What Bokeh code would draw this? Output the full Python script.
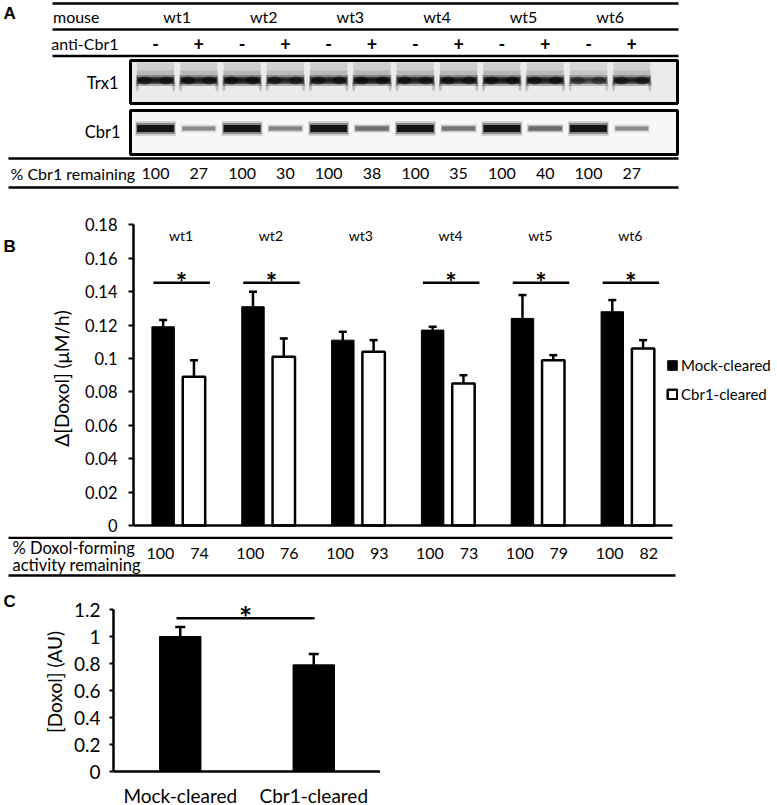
import numpy as np
from bokeh.plotting import figure
from bokeh.models import (Range1d, FactorRange, FixedTicker, CustomJSTickFormatter,
                          Legend, LegendItem, Whisker, TeeHead, ColumnDataSource)
from bokeh.layouts import column, row
from bokeh.embed import file_html
from bokeh.resources import INLINE
from bokeh.core.properties import value

FONT = "Lato"
LETTER_FONT = "Liberation Sans"

# ---------------- data ----------------
mice = ["wt1", "wt2", "wt3", "wt4", "wt5", "wt6"]
anti_cbr1 = ["-", "+", "-", "+", "-", "+", "-", "+", "-", "+", "-", "+"]
cbr1_remaining = [100, 27, 100, 30, 100, 38, 100, 35, 100, 40, 100, 27]
trx1_intensity = [0.9, 0.9, 0.95, 0.85, 0.9, 0.95, 0.9, 0.9, 0.95, 0.9, 0.65, 0.85]

mock_cleared = [0.119, 0.131, 0.111, 0.117, 0.124, 0.128]
mock_err = [0.004, 0.009, 0.005, 0.002, 0.014, 0.007]
cbr1_cleared = [0.089, 0.101, 0.104, 0.085, 0.099, 0.106]
cbr1_err = [0.010, 0.011, 0.007, 0.005, 0.003, 0.005]
significant = [True, True, False, True, True, True]
activity_remaining = [100, 74, 100, 76, 100, 93, 100, 73, 100, 79, 100, 82]
b_ticks = [0, 0.02, 0.04, 0.06, 0.08, 0.1, 0.12, 0.14, 0.16, 0.18]

c_categories = ["Mock-cleared", "Cbr1-cleared"]
c_values = [1.0, 0.79]
c_err = [0.07, 0.08]
c_ticks = [0, 0.2, 0.4, 0.6, 0.8, 1, 1.2]

# ---------------- layout constants (pixels of the page) ----------------
W = 777
LETTER_W = 30
LANE_PX, LANE0 = 43.3, 155.0


def lane_x(px):
    return (px - LANE0) / LANE_PX


def base_fig(**kw):
    p = figure(output_backend="svg", toolbar_location=None, title=None, **kw)
    p.outline_line_color = None
    p.background_fill_color = "white"
    p.border_fill_color = "white"
    return p


def txt(p, x, y, t, size="16px", align="center", bold=False, font=FONT, baseline="middle"):
    p.text(x=x, y=y, text=t, text_font=value(font), text_font_size=size,
           text_align=align, text_baseline=baseline, text_color="black",
           text_font_style="bold" if bold else "normal")


def style_axis(ax, size):
    ax.major_label_text_font = FONT
    ax.major_label_text_font_size = size
    ax.major_label_text_color = "black"
    ax.axis_label_text_font = FONT
    ax.axis_label_text_font_style = "normal"
    ax.axis_label_text_color = "black"
    ax.axis_line_color = "black"
    ax.axis_line_width = 2.5
    ax.major_tick_line_color = "black"
    ax.major_tick_line_width = 2
    ax.minor_tick_line_color = None


# ================= Panel A : blot =================
A_H = 196
pA = base_fig(width=W, height=A_H, x_range=Range1d(lane_x(0), lane_x(W)),
              y_range=Range1d(A_H, 0), x_axis_type=None, y_axis_type=None, min_border=0)
lanes = np.arange(len(anti_cbr1))
trx = np.array(trx1_intensity)
rem = np.array(cbr1_remaining) / 100.0

txt(pA, [lane_x(3)], [12.5], ["A"], size="17px", align="left", bold=True, font=LETTER_FONT)
txt(pA, [lane_x(99), lane_x(118)], [16, 43], ["mouse", "anti-Cbr1"], align="right")
txt(pA, np.arange(len(mice)) * 2 + 0.5, [16] * len(mice), mice)
txt(pA, lanes, [43] * len(lanes), anti_cbr1, size="18px", bold=True)

ly = [3, 29, 55.5, 158, 187]
lx0 = [lane_x(52)] * 3 + [lane_x(8)] * 2
pA.segment(x0=lx0, y0=ly, x1=[lane_x(678)] * 5, y1=ly, line_color="black", line_width=2.5)

# blot boxes
bx = (lane_x(130) + lane_x(677)) / 2
bw = lane_x(677) - lane_x(130)
trx_top, trx_bot = 60, 103
cbr_top, cbr_bot = 110, 154
pA.rect(x=[bx, bx], y=[(trx_top + trx_bot) / 2, (cbr_top + cbr_bot) / 2], width=bw,
        height=[trx_bot - trx_top, cbr_bot - cbr_top], fill_color=["#ebebeb", "#f7f7f7"], line_color=None)

# Trx1 bands
band_y = 80
pA.rect(x=lanes, y=(trx_top + 2 + band_y) / 2, width=0.86, height=band_y - trx_top - 2,
        fill_color="black", fill_alpha=0.13 * trx, line_color=None)
pA.rect(x=lanes, y=band_y - 5, width=0.86, height=10,
        fill_color="black", fill_alpha=0.12 * trx, line_color=None)
for h, w, a in [(11, 0.9, 0.3), (7, 0.86, 0.6), (4, 0.8, 0.6)]:
    pA.rect(x=lanes, y=band_y, width=w, height=h, fill_color="black", fill_alpha=a * trx, line_color=None)
for side in (-1, 1):
    pA.ellipse(x=lanes + side * 0.24, y=band_y, width=0.32, height=8, fill_color="black",
               fill_alpha=0.5 * trx, line_color=None)
    pA.ellipse(x=lanes + side * 0.42, y=band_y + 5, width=0.08, height=12, fill_color="black",
               fill_alpha=0.2 * trx, line_color=None)

# Cbr1 bands
cbr_y = 128
for h, w, a in [(15, 0.94, 0.15), (11, 0.9, 0.35), (7, 0.85, 0.85)]:
    pA.rect(x=lanes, y=cbr_y, width=w * (0.85 + 0.15 * rem), height=h * (0.4 + 0.6 * rem),
            fill_color="black", fill_alpha=a * rem ** 0.75, line_color=None)

pA.rect(x=[bx, bx], y=[(trx_top + trx_bot) / 2, (cbr_top + cbr_bot) / 2], width=bw,
        height=[trx_bot - trx_top, cbr_bot - cbr_top], fill_color=None, line_color="black", line_width=3)

txt(pA, [lane_x(118), lane_x(120)], [82, 131], ["Trx1", "Cbr1"], size="16.5px", align="right")
txt(pA, [lane_x(10)], [173], ["% Cbr1 remaining"], align="left")
txt(pA, lanes, [173] * len(lanes), [str(v) for v in cbr1_remaining])

# ================= Panel B : bar chart =================
B_PX = 1670.0          # px per unit of the y axis
B_TOP = 24
B_ABOVE = 305          # px of frame above zero
B_BELOW = 11           # px of frame below zero
B_FRAME_H = B_ABOVE + B_BELOW
B_LEFT = 133           # page x of the y axis
GROUP_PX = 89.83
B_BORDER_L = B_LEFT - LETTER_W
B_FRAME_W = W - B_LEFT
B_H = B_TOP + B_FRAME_H

pB = base_fig(frame_width=B_FRAME_W, frame_height=B_FRAME_H,
              x_range=Range1d(0, B_FRAME_W / GROUP_PX), y_range=Range1d(-B_BELOW / B_PX, B_ABOVE / B_PX),
              min_border_left=B_BORDER_L, min_border_right=0, min_border_top=B_TOP, min_border_bottom=0)
pB.xgrid.visible = False
pB.ygrid.visible = False

groups = np.arange(len(mice)) + 0.5
xm = groups - 0.17
xc = groups + 0.173
src_m = ColumnDataSource(dict(x=xm, top=mock_cleared, up=np.array(mock_cleared) + np.array(mock_err)))
src_c = ColumnDataSource(dict(x=xc, top=cbr1_cleared, up=np.array(cbr1_cleared) + np.array(cbr1_err)))
r_m = pB.vbar(x="x", top="top", width=0.25, source=src_m, fill_color="black", line_color="black", line_width=1)
r_c = pB.vbar(x="x", top="top", width=0.25, source=src_c, fill_color="white", line_color="black", line_width=2.5)
for s in (src_m, src_c):
    pB.add_layout(Whisker(source=s, base="x", lower="top", upper="up", line_width=2.5, line_color="black",
                          lower_head=None, upper_head=TeeHead(size=8, line_width=2.5, line_color="black")))

sig_g = groups[np.array(significant)]
SIG_Y = 0.1453
pB.segment(x0=sig_g - 0.278, x1=sig_g + 0.351, y0=[SIG_Y] * len(sig_g), y1=[SIG_Y] * len(sig_g),
           line_color="black", line_width=2.5)
txt(pB, sig_g + 0.035, [SIG_Y + 0.001] * len(sig_g), ["*"] * len(sig_g), size="27px", bold=True,
    baseline="alphabetic")
txt(pB, groups + 0.03, [0.1734] * len(mice), mice, size="14px")

pB.yaxis.ticker = FixedTicker(ticks=b_ticks)
pB.yaxis.formatter = CustomJSTickFormatter(code="return String(tick)")
pB.yaxis.bounds = (0, 0.18)
pB.yaxis.axis_label = "Δ[Doxol] (μM/h)"
style_axis(pB.yaxis[0], "16.5px")
pB.yaxis.axis_label_text_font_size = "19px"
pB.yaxis.major_tick_out = 5
pB.yaxis.major_tick_in = 0
pB.yaxis.major_label_standoff = 11
pB.yaxis.axis_label_standoff = 9

pB.xaxis.ticker = FixedTicker(ticks=[])
style_axis(pB.xaxis[0], "0px")
pB.xaxis.bounds = (0, len(mice))
pB.xaxis.fixed_location = 0
pB.xaxis.major_tick_out = 0
pB.xaxis.major_tick_in = 0
pB.xaxis.major_label_standoff = 0

legend = Legend(items=[LegendItem(label="Mock-cleared", renderers=[r_m]),
                       LegendItem(label="Cbr1-cleared", renderers=[r_c])],
                location=(533, 133), padding=0, margin=0, spacing=11, glyph_width=12, glyph_height=12,
                label_standoff=3, label_height=12, label_text_font=FONT, label_text_font_size="15px",
                label_text_color="black", border_line_color=None, background_fill_alpha=0)
pB.add_layout(legend)

letterB = base_fig(width=LETTER_W, height=B_H, x_range=Range1d(0, LETTER_W), y_range=Range1d(B_H, 0),
                   x_axis_type=None, y_axis_type=None, min_border=0)
txt(letterB, [3], [224 - A_H], ["B"], size="17px", align="left", bold=True, font=LETTER_FONT)

# table under B
T0 = A_H + B_H          # page y where the table starts
T_H = 582 - T0
pBt = base_fig(width=W, height=T_H,
               x_range=Range1d(-B_LEFT / GROUP_PX, (W - B_LEFT) / GROUP_PX),
               y_range=Range1d(T_H, 0), x_axis_type=None, y_axis_type=None, min_border=0)


def gx(px):
    return (px - B_LEFT) / GROUP_PX


def ty(py):
    return py - T0


pBt.segment(x0=[gx(8), gx(8)], x1=[len(mice), gx(675)], y0=[max(ty(535), 1.3), ty(575)],
            y1=[max(ty(535), 1.3), ty(575)], line_color="black", line_width=2.5)
txt(pBt, [gx(12), gx(12)], [ty(547.5), ty(564)], ["% Doxol-forming", "activity remaining"],
    size="16.5px", align="left")
tx = np.ravel(np.column_stack([groups - 0.2, groups + 0.235]))
txt(pBt, tx, [ty(553)] * len(tx), [str(v) for v in activity_remaining])

# ================= Panel C =================
C0 = T0 + T_H
C_PX = 135.0
C_LEFT = 113
C_TOP = 10
C_FRAME_H = 771 - (C0 + C_TOP)
C_FRAME_W = 267
C_BOT = 805 - 771
C_H = C_TOP + C_FRAME_H + C_BOT
pC = base_fig(frame_width=C_FRAME_W, frame_height=C_FRAME_H,
              x_range=FactorRange(factors=c_categories, range_padding=0),
              y_range=Range1d(0, C_FRAME_H / C_PX),
              min_border_left=C_LEFT - LETTER_W, min_border_right=0, min_border_top=C_TOP, min_border_bottom=C_BOT)
pC.xgrid.visible = False
pC.ygrid.visible = False
src_cc = ColumnDataSource(dict(x=c_categories, top=c_values, up=np.array(c_values) + np.array(c_err)))
pC.vbar(x="x", top="top", width=0.31, source=src_cc, fill_color="black", line_color="black", line_width=1)
pC.add_layout(Whisker(source=src_cc, base="x", lower="top", upper="up", line_width=2.5, line_color="black",
                      lower_head=None, upper_head=TeeHead(size=10, line_width=2.5, line_color="black")))
C_SIG = 1.136
pC.segment(x0=[0.5 - 0.028], x1=[1.5 + 0.006], y0=[C_SIG], y1=[C_SIG], line_color="black", line_width=2.5)
txt(pC, [0.99], [C_SIG + 0.01], ["*"], size="31px", bold=True, baseline="alphabetic")

pC.yaxis.ticker = FixedTicker(ticks=c_ticks)
pC.yaxis.formatter = CustomJSTickFormatter(code="return String(tick)")
pC.yaxis.bounds = (0, 1.2)
pC.yaxis.axis_label = "[Doxol] (AU)"
style_axis(pC.yaxis[0], "19px")
pC.yaxis.axis_label_text_font_size = "19px"
pC.yaxis.major_tick_out = 4
pC.yaxis.major_tick_in = 0
pC.yaxis.major_label_standoff = 9
pC.yaxis.axis_label_standoff = 5
style_axis(pC.xaxis[0], "19px")
pC.xaxis.major_tick_out = 0
pC.xaxis.major_tick_in = 0
pC.xaxis.major_label_standoff = 12

letterC = base_fig(width=LETTER_W, height=C_H, x_range=Range1d(0, LETTER_W), y_range=Range1d(C_H, 0),
                   x_axis_type=None, y_axis_type=None, min_border=0)
txt(letterC, [3], [594 - C0], ["C"], size="17px", align="left", bold=True, font=LETTER_FONT)

layout = column(pA, row(letterB, pB), pBt, row(letterC, pC))
open("out.html", "w").write(file_html(layout, INLINE, "Figure"))
